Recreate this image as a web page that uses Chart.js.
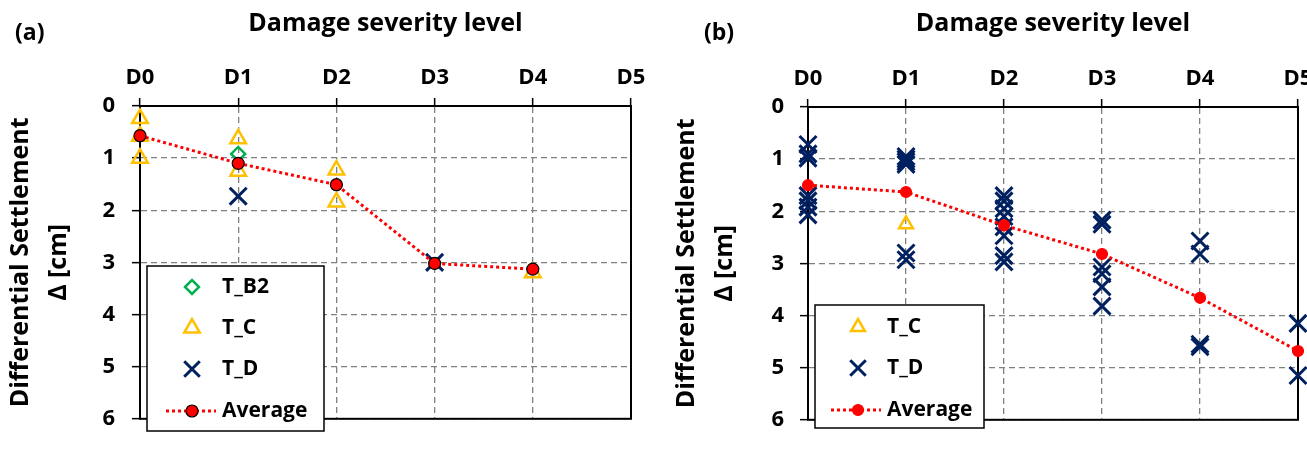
<!DOCTYPE html>
<html><head><meta charset="utf-8">
<script src="https://cdn.jsdelivr.net/npm/chart.js@4.4.1/dist/chart.umd.min.js"></script>
<style>
html,body{margin:0;padding:0;background:#fff;overflow:hidden;width:1307px;height:449px;}
#wrap{position:relative;width:1307px;height:449px;overflow:hidden;}
canvas{position:absolute;top:0;}
#ca{left:0;}
#cb{left:660px;}
.tag{position:absolute;font-family:"Open Sans",sans-serif;font-weight:bold;font-size:23px;color:#000;line-height:1;}
</style></head><body>
<div id="wrap">
<canvas id="ca" width="660" height="449"></canvas>
<canvas id="cb" width="690" height="449"></canvas>
<div class="tag" style="left:15px;top:20px">(a)</div>
<div class="tag" style="left:704px;top:20px">(b)</div>
</div>
<script>
// ---- data ----
const levels = ['D0','D1','D2','D3','D4','D5'];
const yTicks = [0,1,2,3,4,5,6];
const xTitle = 'Damage severity level';
const yTitle = ['Differential Settlement','Δ [cm]'];
// Panel (a)
const aTB2X = [1];
const aTB2Y = [0.92];
const aTCX = [0,0,0,1,1,2,2,4];
const aTCY = [0.24,0.58,1.0,0.63,1.25,1.23,1.84,3.2];
const aTDX = [1,3];
const aTDY = [1.73,3.0];
const aAvgX = [0,1,2,3,4];
const aAvgY = [0.57,1.1,1.51,3.02,3.13];
// Panel (b)
const bTCX = [1];
const bTCY = [2.25];
const bTDX = [0,0,0,0,0,0,0, 1,1,1,1,1,1, 2,2,2,2,2,2,2,2, 3,3,3,3,3,3, 4,4,4,4, 5,5];
const bTDY = [0.72,0.9,0.98,1.7,1.8,1.92,2.07,
              0.95,1.0,1.05,1.1,2.8,2.93,
              1.7,1.8,1.95,2.1,2.3,2.47,2.85,2.97,
              2.17,2.25,3.07,3.2,3.45,3.82,
              2.57,2.82,4.55,4.6,
              4.15,5.15];
const bAvgX = [0,1,2,3,4,5];
const bAvgY = [1.5,1.63,2.27,2.82,3.66,4.68];

// ---- helpers ----
const pts = (xs, ys) => xs.map((x, i) => ({x: x, y: ys[i]}));
const FONT = '"Open Sans", Lato, sans-serif';
Chart.defaults.font.family = FONT;
Chart.defaults.color = '#000';

const ORANGE = '#FFC000', GREEN = '#00B050', NAVY = '#002060', RED = '#FF0000';

function dsTB2(xs, ys){ return {label:'T_B2', data:pts(xs,ys), order:1, showLine:false, clip:false,
  pointStyle:'rectRot', pointRadius:7, pointBorderWidth:2.5, pointBackgroundColor:'rgba(0,0,0,0)', pointBorderColor:GREEN,
  backgroundColor:'rgba(0,0,0,0)', borderColor:GREEN}; }
function dsTC(xs, ys, r){ return {label:'T_C', data:pts(xs,ys), order:3, showLine:false, clip:false,
  pointStyle:'triangle', pointRadius:r, pointBorderWidth:2.5, pointBackgroundColor:'rgba(0,0,0,0)', pointBorderColor:ORANGE,
  backgroundColor:'rgba(0,0,0,0)', borderColor:ORANGE}; }
function dsTD(xs, ys){ return {label:'T_D', data:pts(xs,ys), order:2, showLine:false, clip:false,
  pointStyle:'crossRot', pointRadius:12, pointBorderWidth:3, pointBackgroundColor:NAVY, pointBorderColor:NAVY,
  backgroundColor:NAVY, borderColor:NAVY}; }
function dsAvg(xs, ys, bc, r){ return {label:'Average', data:pts(xs,ys), order:0, showLine:true, clip:false,
  borderColor:RED, borderWidth:3, borderDash:[3,3], borderCapStyle:'butt', backgroundColor:RED,
  pointStyle:'circle', pointRadius:r, pointBorderWidth:1.2, pointBackgroundColor:RED, pointBorderColor:bc}; }

const frame = {
  id:'frame',
  beforeDatasetsDraw(chart){
    const {left,right,top,bottom} = chart.chartArea;
    const ctx = chart.ctx;
    ctx.save();
    ctx.strokeStyle = '#000'; ctx.lineWidth = 2; ctx.setLineDash([]);
    ctx.strokeRect(left, top, right-left, bottom-top);
    ctx.restore();
  }
};

const boxLegend = {
  id:'boxLegend',
  afterDatasetsDraw(chart, args, o){
    const ctx = chart.ctx;
    ctx.save();
    ctx.fillStyle = '#fff';
    ctx.fillRect(o.x, o.y, o.w, o.h);
    ctx.lineWidth = 1.5; ctx.strokeStyle = '#000'; ctx.setLineDash([]);
    ctx.strokeRect(o.x, o.y, o.w, o.h);
    chart.data.datasets.forEach((ds, i) => {
      const y = o.rows[i];
      if (ds.showLine) {
        ctx.save();
        ctx.strokeStyle = ds.borderColor; ctx.lineWidth = ds.borderWidth;
        ctx.setLineDash(ds.borderDash || []);
        ctx.beginPath(); ctx.moveTo(o.lineX1, y); ctx.lineTo(o.lineX2, y); ctx.stroke();
        ctx.restore();
      }
      ctx.save();
      ctx.setLineDash([]);
      ctx.fillStyle = ds.pointBackgroundColor; ctx.strokeStyle = ds.pointBorderColor;
      ctx.lineWidth = ds.pointBorderWidth;
      Chart.helpers.drawPoint(ctx, {pointStyle: ds.pointStyle, radius: o.radius[i], borderWidth: ds.pointBorderWidth, rotation: 0}, o.markerX, y);
      ctx.restore();
      ctx.fillStyle = '#000';
      ctx.font = 'bold 21px ' + FONT;
      ctx.textBaseline = 'middle'; ctx.textAlign = 'left';
      ctx.fillText(ds.label, o.textX, y);
    });
    ctx.restore();
  }
};

function makeChart(id, datasets, L){
  const gridOpts = {color:'#808080', lineWidth:1.3, tickLength:8, tickColor:'#000', tickWidth:1.5, tickBorderDash:[]};
  const borderOpts = {display:true, color:'#000', width:2, dash:[6,4]};
  return new Chart(document.getElementById(id), {
    type:'scatter',
    data:{datasets: datasets},
    options:{
      responsive:false, animation:false,
      layout:{padding:{left:0, top:0, right:L.padRight, bottom:L.padBottom}},
      plugins:{legend:{display:false}, tooltip:{enabled:false}, boxLegend: L.legend},
      scales:{
        x:{type:'linear', position:'top', min:0, max:5,
          afterFit: s => { s.height = L.xHeight; },
          ticks:{stepSize:1, padding:7, color:'#000', font:{size:22, weight:'bold'}, callback: v => levels[v] ?? ''},
          grid: gridOpts, border: borderOpts,
          title:{display:true, text:xTitle, color:'#000', font:{size:25, weight:'bold', lineHeight:1.2}, padding:{top:9, bottom:0}}
        },
        y:{type:'linear', reverse:true, min:0, max:6,
          afterFit: s => { s.width = L.yWidth; },
          ticks:{stepSize:1, padding:L.yTickPad, color:'#000', font:{size:22, weight:'bold'}, callback: v => yTicks.includes(v) ? String(v) : ''},
          grid: gridOpts, border: borderOpts,
          title:{display:true, text:yTitle, color:'#000', font:{size:25, weight:'bold', lineHeight:1.52}, padding:{top:L.yTitlePad, bottom:0}}
        }
      }
    },
    plugins:[frame, boxLegend]
  });
}

makeChart('ca', [dsTB2(aTB2X,aTB2Y), dsTC(aTCX,aTCY,9), dsTD(aTDX,aTDY), dsAvg(aAvgX,aAvgY,'#000',6)], {
  padRight:29, padBottom:12, xHeight:106, yWidth:140, yTickPad:17, yTitlePad:2,
  legend:{x:147, y:266, w:177, h:165, rows:[287,328,369,411], markerX:192, textX:222, lineX1:166, lineX2:216, radius:[7,9,11,6]}
});
makeChart('cb', [dsTC(bTCX,bTCY,8), dsTD(bTDX,bTDY), dsAvg(bAvgX,bAvgY,RED,5.5)], {
  padRight:52, padBottom:12, xHeight:107, yWidth:148, yTickPad:16, yTitlePad:8,
  legend:{x:155, y:305, w:169, h:123, rows:[327,368,410], markerX:198, textX:227, lineX1:171, lineX2:221, radius:[8,11,5.5]}
});
</script>
</body></html>
